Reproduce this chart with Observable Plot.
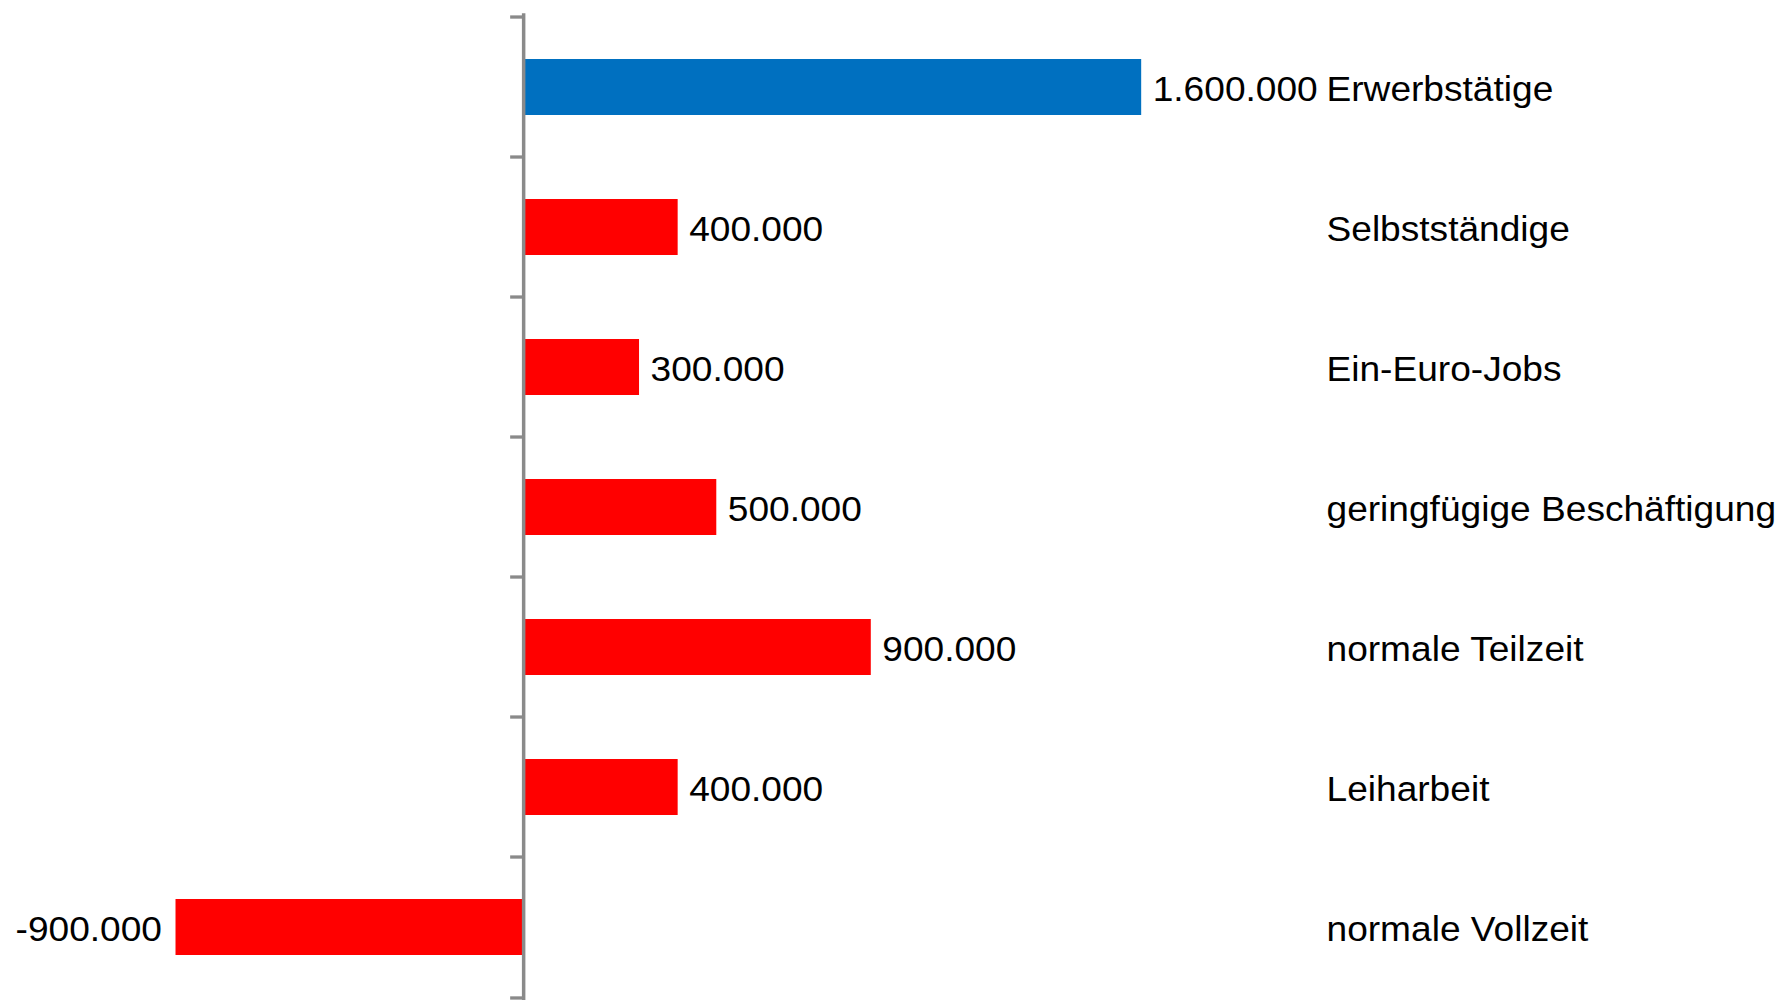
<!DOCTYPE html>
<html>
<head>
<meta charset="utf-8">
<script src="https://cdn.jsdelivr.net/npm/d3@7"></script>
<script src="https://cdn.jsdelivr.net/npm/@observablehq/plot@0.6"></script>
<style>
  html, body { margin: 0; padding: 0; background: #fff; overflow: hidden; }
</style>
</head>
<body>
<div id="chart"></div>
<script>
const categories = ["Erwerbstätige", "Selbstständige", "Ein-Euro-Jobs", "geringfügige Beschäftigung", "normale Teilzeit", "Leiharbeit", "normale Vollzeit"];
const values = [1600000, 400000, 300000, 500000, 900000, 400000, -900000];
const kinds = ["Gesamt", "Teil", "Teil", "Teil", "Teil", "Teil", "Teil"];

const data = categories.map((c, i) => ({category: c, value: values[i], kind: kinds[i]}));

const W = 1782, H = 1002;
const mTop = 13.3, mBottom = 2, mLeft = 21, mRight = 467;
const step = (H - mTop - mBottom) / categories.length;
const FS = 35.5;

const de = d3.formatLocale({decimal: ",", thousands: ".", grouping: [3], currency: ["", " €"], minus: "-"});
const fmt = de.format(",");

const axisGray = "#8a8a8a";

const plot = Plot.plot({
  width: W,
  height: H,
  marginTop: mTop,
  marginBottom: mBottom,
  marginLeft: mLeft,
  marginRight: mRight,
  style: {fontFamily: "'Liberation Sans', Arial, sans-serif", fontSize: FS + "px", color: "#000", background: "#fff"},
  x: {domain: [-1300000, 2050000], axis: null},
  y: {domain: categories, paddingInner: 0.6, paddingOuter: 0.3, axis: null},
  color: {domain: ["Gesamt", "Teil"], range: ["#0070C0", "#FF0000"]},
  marks: [
    Plot.barX(data, {x: "value", y: "category", fill: "kind"}),
    Plot.ruleX([0], {stroke: axisGray, strokeWidth: 3.5}),
    Plot.ruleY(categories, {y: d => d, x1: 0, x2: 0, insetLeft: -13, dy: -step / 2, stroke: axisGray, strokeWidth: 3.3}),
    Plot.ruleY(categories.slice(-1), {y: d => d, x1: 0, x2: 0, insetLeft: -13, dy: step / 2, stroke: axisGray, strokeWidth: 3.3}),
    Plot.text(data.filter(d => d.value >= 0), {x: "value", y: "category", text: d => fmt(d.value), textAnchor: "start", dx: 11, dy: 2, fill: "#000", fontSize: FS}),
    Plot.text(data.filter(d => d.value < 0), {x: "value", y: "category", text: d => fmt(d.value), textAnchor: "end", dx: -14, dy: 2, fill: "#000", fontSize: FS}),
    Plot.axisY({anchor: "right", tickSize: 0, tickPadding: 11, label: null, fontSize: FS, fill: "#000", dy: 2})
  ]
});

document.getElementById("chart").appendChild(plot);

// slight horizontal stretch of the glyphs, as in the original rendering
plot.querySelectorAll("text").forEach(t => {
  const L = t.getComputedTextLength();
  if (L > 0) {
    t.setAttribute("textLength", (L * 1.045).toFixed(2));
    t.setAttribute("lengthAdjust", "spacingAndGlyphs");
  }
});
</script>
</body>
</html>
